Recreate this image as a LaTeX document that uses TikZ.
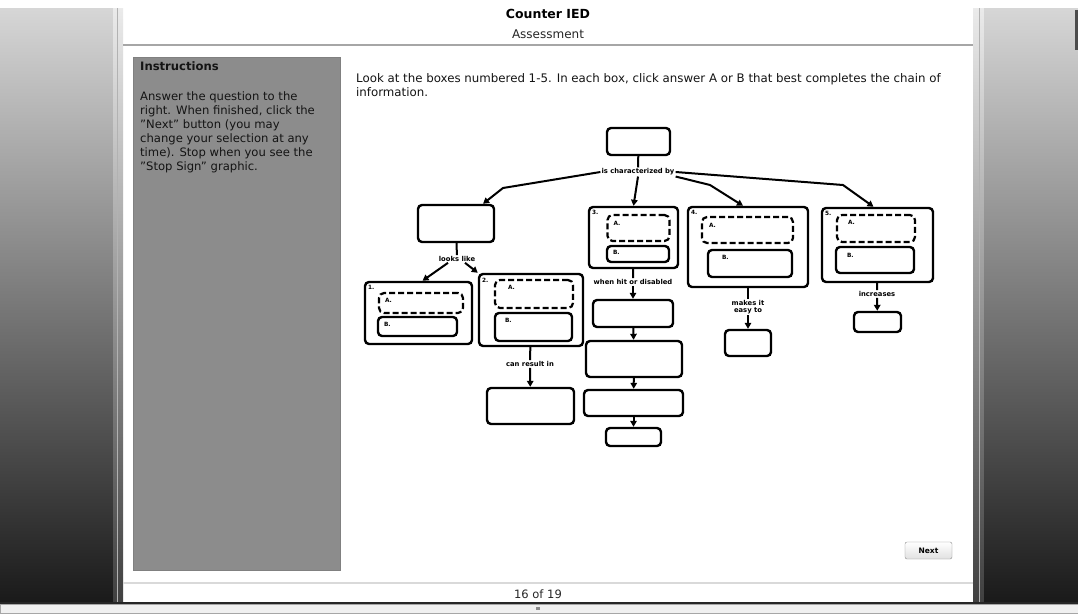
\documentclass[tikz,border=0pt]{standalone}
\usepackage{fontspec}
\setmainfont{DejaVu Sans}
\usetikzlibrary{arrows.meta,calc}

\begin{document}
\begin{tikzpicture}[x=1pt, y=-1pt,
    box/.style={draw, line width=2.4pt, rounded corners=4pt, inner sep=0pt},
    optbox/.style={draw, line width=2.2pt, rounded corners=5pt, dash pattern=on 6pt off 3pt, inner sep=0pt},
    tag/.style={font=\fontsize{5.8}{6}\selectfont\bfseries, inner sep=0pt, anchor=north west},
    lbl/.style={font=\fontsize{6.8}{7}\selectfont\bfseries, inner sep=1pt, align=center},
    link/.style={line width=2pt},
    arr/.style={line width=2pt, -{Triangle[length=6pt,width=6.5pt]}},
    body/.style={font=\fontsize{11.6}{14}\selectfont, text=black!92, inner sep=0pt, align=left}]
    \useasboundingbox (0,0) rectangle (1078,613);
    \fill[white] (0,0) rectangle (1078,613);

    % Window chrome (left and right) - gray gradients
    \shade[top color=black!16, bottom color=black!90] (0,8) rectangle (113,603);
    \shade[top color=black!8, bottom color=black!75] (113,8) rectangle (123,603);
    \draw[black!30, line width=1pt] (117,8) -- (117,603);
    \shade[top color=black!8, bottom color=black!75] (973,8) rectangle (984,603);
    \draw[black!30, line width=1pt] (979,8) -- (979,603);
    \shade[top color=black!16, bottom color=black!90] (984,8) rectangle (1078,603);
    \fill[black!70] (1075,10) rectangle (1078,50);
    \fill[black!85] (0,602) rectangle (1078,604);
    \filldraw[fill=black!6, draw=black!35] (0,604) rectangle (1078,613);
    \fill[black!45] (536,607) rectangle (540,610);

    % Header
    \node[font=\fontsize{12.5}{14}\selectfont\bfseries] (title) at (548,14) {Counter IED};
    \node[font=\fontsize{12}{14}\selectfont, text=black!85] (subtitle) at (548,34) {Assessment};
    \draw[black!35, line width=1.2pt] (123,45) -- (973,45);

    % Instructions panel - gray
    \filldraw[fill=black!45, draw=black!50] (133,57) rectangle (340,570);
    \node[body, anchor=north west, font=\fontsize{11.6}{14}\selectfont\bfseries] (instrHead) at (140,61) {Instructions};
    \node[body, anchor=north west] (instrBody) at (140,91) {Answer the question to the\\right. When finished, click the\\"Next" button (you may\\change your selection at any\\time). Stop when you see the\\"Stop Sign" graphic.};

    % Question text
    \node[body, anchor=north west, font=\fontsize{11.8}{14}\selectfont] (question) at (356,73) {Look at the boxes numbered 1-5. In each box, click answer A or B that best completes the chain of\\information.};

    % Concept map - top
    \node[box, minimum width=63pt, minimum height=27pt] (top) at (638.5,141.5) {};
    \node[lbl] (charBy) at (638,172) {is characterized by};
    \node[box, minimum width=76pt, minimum height=37pt] (thing) at (456,223.5) {};

    % Boxes 3, 4 and 5 (upper row)
    \node[box, minimum width=89pt, minimum height=61pt, label={[tag, xshift=4pt, yshift=-4pt]north west:3.}] (box3) at (633.5,237.5) {};
    \node[optbox, minimum width=62pt, minimum height=26pt, label={[tag, xshift=7pt, yshift=-7pt]north west:A.}] (a3) at (638.5,228) {};
    \node[box, minimum width=62pt, minimum height=16pt, label={[tag, xshift=7pt, yshift=-5pt]north west:B.}] (b3) at (638,254) {};
    \node[box, minimum width=120pt, minimum height=80pt, label={[tag, xshift=4pt, yshift=-4pt]north west:4.}] (box4) at (748,247) {};
    \node[optbox, minimum width=91pt, minimum height=26pt, label={[tag, xshift=8pt, yshift=-7pt]north west:A.}] (a4) at (747.5,230) {};
    \node[box, minimum width=84pt, minimum height=27pt, label={[tag, xshift=15pt, yshift=-6pt]north west:B.}] (b4) at (750,263.5) {};
    \node[box, minimum width=111pt, minimum height=74pt, label={[tag, xshift=4pt, yshift=-4pt]north west:5.}] (box5) at (877.5,245) {};
    \node[optbox, minimum width=78pt, minimum height=27pt, label={[tag, xshift=12pt, yshift=-6pt]north west:A.}] (a5) at (876,228.5) {};
    \node[box, minimum width=78pt, minimum height=26pt, label={[tag, xshift=12pt, yshift=-7pt]north west:B.}] (b5) at (875,260) {};

    % Boxes 1 and 2 (lower left)
    \node[lbl] (looks) at (457,259) {looks like};
    \node[box, minimum width=107pt, minimum height=62pt, label={[tag, xshift=4pt, yshift=-4pt]north west:1.}] (box1) at (418.5,313) {};
    \node[optbox, minimum width=84pt, minimum height=20pt, label={[tag, xshift=7pt, yshift=-6pt]north west:A.}] (a1) at (421,303) {};
    \node[box, minimum width=79pt, minimum height=19pt, label={[tag, xshift=7pt, yshift=-6pt]north west:B.}] (b1) at (417.5,326.5) {};
    \node[box, minimum width=104pt, minimum height=72pt, label={[tag, xshift=4pt, yshift=-5pt]north west:2.}] (box2) at (531,310) {};
    \node[optbox, minimum width=78pt, minimum height=28pt, label={[tag, xshift=14pt, yshift=-6pt]north west:A.}] (a2) at (534,294) {};
    \node[box, minimum width=77pt, minimum height=28pt, label={[tag, xshift=11pt, yshift=-6pt]north west:B.}] (b2) at (533.5,327) {};
    \node[lbl] (result) at (530,364) {can result in};
    \node[box, minimum width=87pt, minimum height=36pt] (resBox) at (530.5,406) {};

    % Chain under box 3
    \node[lbl] (hit) at (633,282) {when hit or disabled};
    \node[box, minimum width=80pt, minimum height=27pt] (chain1) at (633,313.5) {};
    \node[box, minimum width=96pt, minimum height=36pt] (chain2) at (634,359) {};
    \node[box, minimum width=99pt, minimum height=26pt] (chain3) at (633.5,403) {};
    \node[box, minimum width=55pt, minimum height=18pt] (chain4) at (633.5,437) {};

    % Under boxes 4 and 5
    \node[lbl, font=\fontsize{6.8}{7.5}\selectfont\bfseries] (easy) at (748,307) {makes it\\easy to};
    \node[box, minimum width=46pt, minimum height=26pt] (easyBox) at (748,343) {};
    \node[lbl] (incr) at (877,294) {increases};
    \node[box, minimum width=47pt, minimum height=20pt] (incBox) at (877.5,322) {};

    % Connectors
    \coordinate (bendL) at (503,188);
    \coordinate (bend4) at (710,185);
    \coordinate (bend5) at (843,185);
    \draw[link] (top) -- (charBy);
    \draw[arr] (charBy.west) -- (bendL) -- ([xshift=27pt]thing.north);
    \draw[arr] (charBy.south) -- (box3.north);
    \draw[arr] (charBy.south east) -- (bend4) -- ([xshift=-5pt]box4.north);
    \draw[arr] (charBy.east) -- (bend5) -- ([xshift=-4pt]box5.north);
    \draw[link] (thing) -- (looks);
    \draw[arr] ([xshift=-9pt]looks.south) -- ([xshift=4pt]box1.north);
    \draw[arr] ([xshift=8pt]looks.south) -- (box2.north west);
    \draw[link] (box2) -- (result);
    \draw[arr] (result) -- (resBox);
    \draw[link] (box3) -- (hit);
    \draw[arr] (hit) -- (chain1);
    \draw[arr] (chain1) -- (chain2);
    \draw[arr] (chain2) -- (chain3);
    \draw[arr] (chain3) -- (chain4);
    \draw[link] (box4) -- (easy);
    \draw[arr] (easy) -- (easyBox);
    \draw[link] (box5) -- (incr);
    \draw[arr] (incr) -- (incBox);

    % Footer
    \shade[top color=white, bottom color=black!12, draw=black!45, rounded corners=2pt] (905,542) rectangle (952,559);
    \node[font=\fontsize{7.5}{8}\selectfont\bfseries] (next) at (928.5,550.5) {Next};
    \draw[black!15, line width=2pt] (123,583) -- (973,583);
    \node[font=\fontsize{11.5}{12}\selectfont, text=black!85] (pager) at (538,594) {16 of 19};
\end{tikzpicture}
\end{document}
